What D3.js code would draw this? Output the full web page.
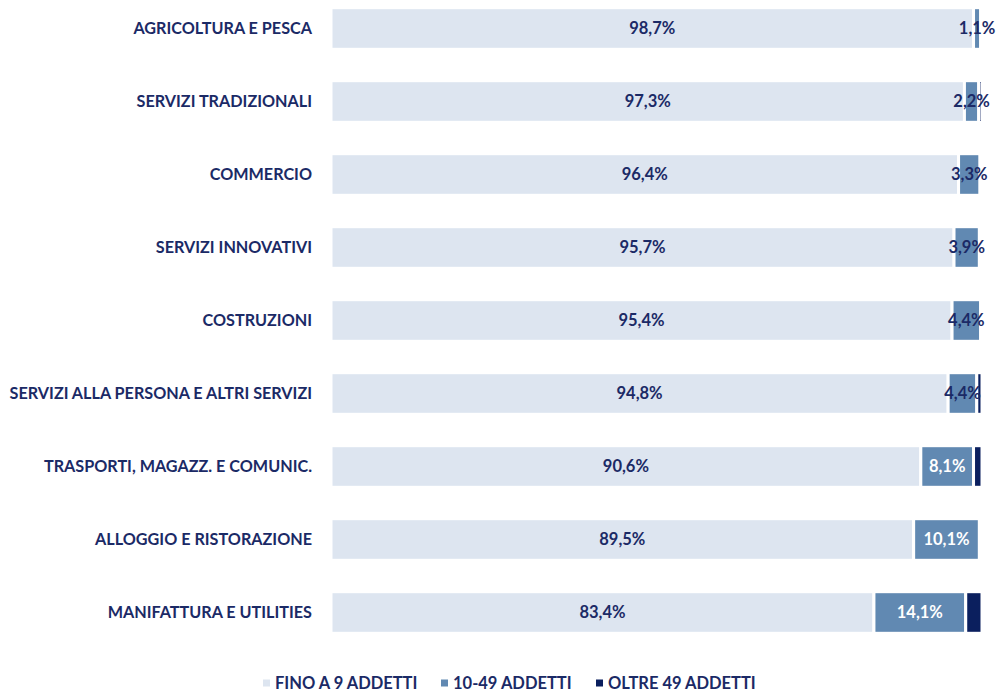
<!DOCTYPE html>
<html>
<head>
<meta charset="utf-8">
<script src="https://cdn.jsdelivr.net/npm/d3@7"></script>
<style>
  body { margin: 0; background: #fff; }
  text { font-family: "Lato", "Noto Sans", sans-serif; font-weight: bold; }
</style>
</head>
<body>
<svg id="chart" width="999" height="693"></svg>
<script>
const sectors = [
  "AGRICOLTURA E PESCA",
  "SERVIZI TRADIZIONALI",
  "COMMERCIO",
  "SERVIZI INNOVATIVI",
  "COSTRUZIONI",
  "SERVIZI ALLA PERSONA E ALTRI SERVIZI",
  "TRASPORTI, MAGAZZ. E COMUNIC.",
  "ALLOGGIO E RISTORAZIONE",
  "MANIFATTURA E UTILITIES"
];
const small = [98.7, 97.3, 96.4, 95.7, 95.4, 94.8, 90.6, 89.5, 83.4];
const medium = [1.1, 2.2, 3.3, 3.9, 4.4, 4.4, 8.1, 10.1, 14.1];
const large = [0.2, 0.5, 0.3, 0.4, 0.2, 0.8, 1.3, 0.4, 2.5];
const seriesNames = ["FINO A 9 ADDETTI", "10-49 ADDETTI", "OLTRE 49 ADDETTI"];
const colors = ["#dde5f0", "#6189b2", "#0b1f5e"];
const navy = "#1b2a66";

const svg = d3.select("#chart");

const rows = sectors.map((s, i) => ({ sector: s, vals: [small[i], medium[i], large[i]] }));

const x = d3.scaleLinear().domain([0, 100]).range([331, 982]);
const y = d3.scaleBand().domain(sectors).range([-8, 649]).paddingInner(0.43).paddingOuter(0.215);

// category labels
svg.append("g").selectAll("text")
  .data(sectors)
  .join("text")
  .attr("x", 312)
  .attr("y", d => y(d) + y.bandwidth() / 2)
  .attr("dy", "0.35em")
  .attr("text-anchor", "end")
  .attr("fill", navy)
  .style("font-size", "16.2px")
  .text(d => d);

const rowG = svg.append("g").selectAll("g")
  .data(rows)
  .join("g")
  .attr("transform", d => `translate(0,${y(d.sector)})`);

rowG.each(function (d) {
  const g = d3.select(this);
  let start = 0;
  d.vals.forEach((v, k) => {
    const x0 = x(start), x1 = x(start + v);
    g.append("rect")
      .attr("x", x0)
      .attr("y", 0)
      .attr("width", Math.max(0, x1 - x0))
      .attr("height", y.bandwidth())
      .attr("fill", colors[k])
      .attr("stroke", "#fff")
      .attr("stroke-width", 3);
    start += v;
  });
  start = 0;
  d.vals.forEach((v, k) => {
    const x0 = x(start), x1 = x(start + v);
    if (k < 2) {
      const wide = (x1 - x0) > 45;
      g.append("text")
        .attr("x", (x0 + x1) / 2)
        .attr("y", y.bandwidth() / 2)
        .attr("dy", "0.35em")
        .attr("text-anchor", "middle")
        .attr("fill", k === 1 && wide ? "#fff" : navy)
        .style("font-size", "16.5px")
        .text(v.toFixed(1).replace(".", ",") + "%");
    }
    start += v;
  });
});

// legend
const legendX = [263, 441, 596];
const legend = svg.append("g").selectAll("g")
  .data(seriesNames)
  .join("g")
  .attr("transform", (d, i) => `translate(${legendX[i]},683)`);
legend.append("rect")
  .attr("x", 0).attr("y", -3.5)
  .attr("width", 7).attr("height", 7)
  .attr("fill", (d, i) => colors[i]);
legend.append("text")
  .attr("x", 12)
  .attr("dy", "0.35em")
  .attr("fill", navy)
  .style("font-size", "16.5px")
  .text(d => d);
</script>
</body>
</html>
